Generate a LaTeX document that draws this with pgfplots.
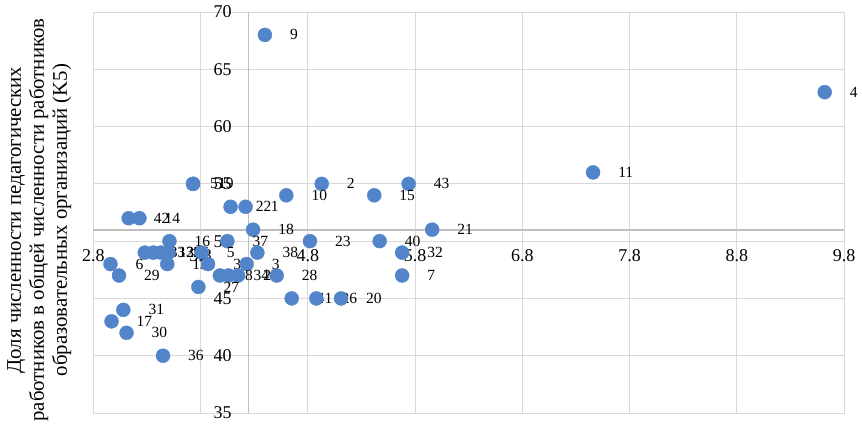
\documentclass[border=0pt]{standalone}
\usepackage{pgfplots}
\pgfplotsset{compat=1.18}
\usepackage{pgfplotstable}
\usepackage{fontspec}
\setmainfont{Liberation Serif}

\definecolor{dot}{RGB}{82,132,202}
\definecolor{gridc}{RGB}{217,217,217}
\definecolor{axc}{RGB}{191,191,191}

% region id as label
\pgfplotstableread{
x    y   lab
4.40 68  9
9.62 63  4
7.46 56  11
3.73 55  19
4.93 55  2
5.74 55  43
4.60 54  10
5.42 54  15
4.08 53  22
4.22 53  1
3.13 52  42
3.23 52  14
4.29 51  18
5.96 51  21
3.51 50  16
4.05 50  37
4.82 50  23
5.47 50  40
3.28 49  33
3.36 49  12
3.43 49  39
3.50 49  25
3.81 49  5
4.33 49  38
5.68 49  32
2.96 48  6
3.49 48  13
3.87 48  35
4.23 48  3
3.04 47  29
3.98 47  8
4.06 47  34
4.15 47  24
4.51 47  28
5.68 47  7
3.78 46  27
4.65 45  41
4.88 45  26
5.11 45  20
3.08 44  31
2.97 43  17
3.11 42  30
3.45 40  36
}\pts
% point whose label sits closer to the marker
\pgfplotstableread{
x    y   lab
3.73 55  51
}\ptsb

\begin{document}
\begin{tikzpicture}
\begin{axis}[at={(0pt,0pt)}, anchor=south west, scale only axis,
  width=750.7pt, height=401pt,
  xmin=2.8, xmax=9.8, ymin=35, ymax=70,
  xtick={2.8,3.8,4.8,5.8,6.8,7.8,8.8,9.8}, ytick={35,40,45,50,55,60,65,70},
  xticklabels={}, yticklabels={}, major tick length=0pt,
  grid=major, grid style={gridc, line width=0.9pt},
  axis line style={gridc, line width=0.9pt}, clip=false]
% axes crossing at the means
\draw[axc, line width=1.3pt] (axis cs:4.25,35) -- (axis cs:4.25,70);
\draw[axc, line width=1.3pt] (axis cs:2.8,50.97) -- (axis cs:9.8,50.97);
\addplot[only marks, mark=*, mark size=7pt, color=dot,
  point meta=explicit symbolic, nodes near coords,
  nodes near coords style={anchor=west, inner sep=0pt, xshift=17pt,
    text=black, font=\fontsize{15.5}{18}\selectfont}]
  table[x=x, y=y, meta=lab] {\ptsb};
\addplot[only marks, mark=*, mark size=7pt, color=dot,
  point meta=explicit symbolic, nodes near coords,
  nodes near coords style={anchor=west, inner sep=0pt, xshift=25pt,
    text=black, font=\fontsize{15.5}{18}\selectfont}]
  table[x=x, y=y, meta=lab] {\pts};
% tick labels sit on the crossing axes
\pgfplotsinvokeforeach{35,40,45,50,55,60,65,70}{
  \node[anchor=east, inner sep=0pt, xshift=-17pt, font=\fontsize{18}{20}\selectfont]
    at (axis cs:4.25,#1) {#1};}
\pgfplotsinvokeforeach{2.8,3.8,4.8,5.8,6.8,7.8,8.8,9.8}{
  \node[inner sep=0pt, yshift=-26pt, font=\fontsize{18}{20}\selectfont]
    at (axis cs:#1,50.97) {#1};}
\end{axis}
\node[rotate=90, align=center, font=\fontsize{20.8}{23}\selectfont] at (-54pt,193pt)
  {Доля численности педагогических\\
   работников в общей численности работников\\
   образовательных организаций (K5)};
\pgfresetboundingbox
\path (-93.3pt,-15pt) rectangle (768.7pt,413pt);
\end{tikzpicture}
\end{document}
